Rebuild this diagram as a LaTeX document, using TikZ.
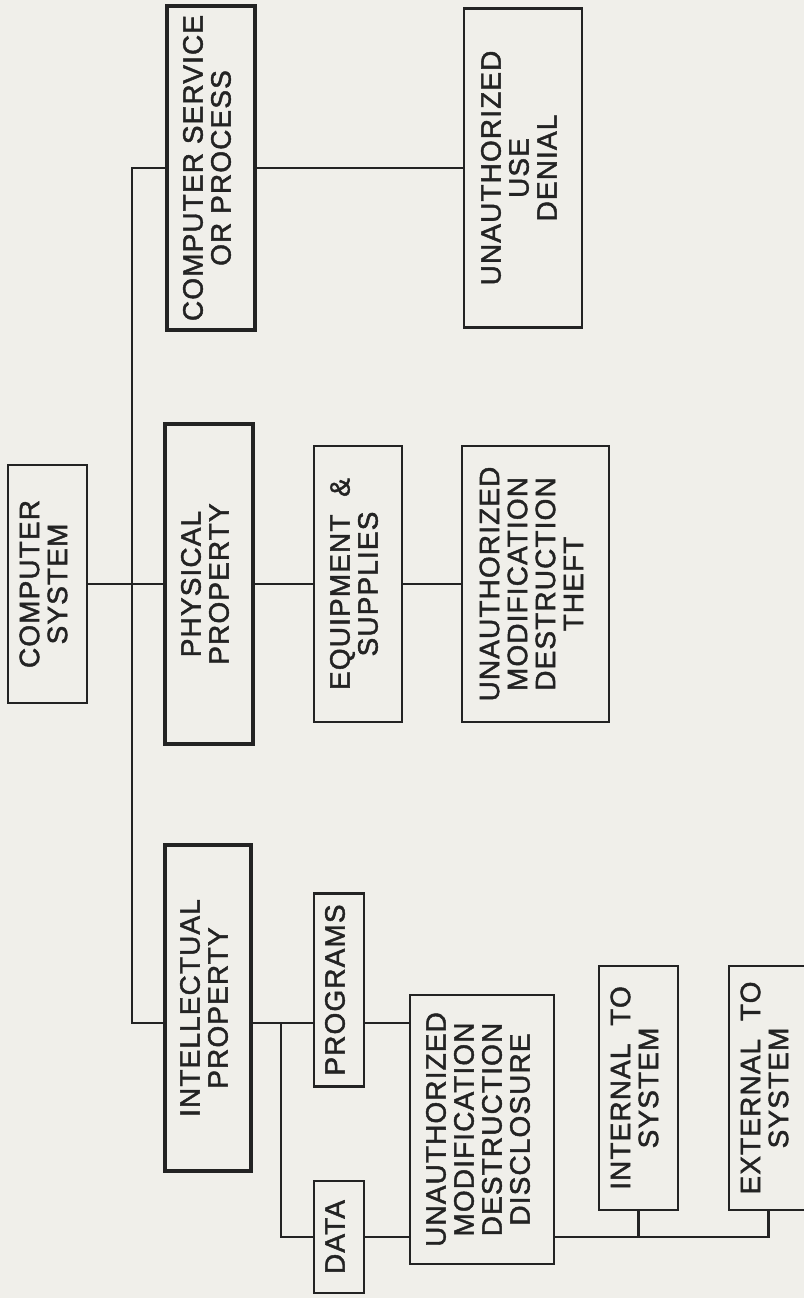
\documentclass[tikz,border=0pt]{standalone}
\usepackage{fontspec}
\setmainfont{Liberation Sans}[FakeBold=1.6, LetterSpace=4]
\usetikzlibrary{positioning}
\definecolor{paper}{RGB}{240,239,234}
\definecolor{ink}{RGB}{35,35,35}
\newcommand{\vlab}[1]{\rotatebox{90}{\begin{tabular}{@{}c@{}}#1\end{tabular}}}

\begin{document}
\begin{tikzpicture}[x=0.5pt, y=-0.5pt,
    box/.style={draw=ink, line width=1.4pt, inner sep=0pt, fill=paper, text=ink,
      font=\fontsize{14}{14}\selectfont},
    heavy/.style={box, line width=2.2pt},
    conn/.style={draw=ink, line width=1.2pt}]
  \useasboundingbox (0,0) rectangle (804,1298);
  \fill[paper] (0,0) rectangle (804,1298);
  \clip (0,0) rectangle (804,1298);
  \node[box, minimum width=39.5pt, minimum height=119pt] (sys) at (47.5,584) {\vlab{COMPUTER\\SYSTEM}};
  \node[heavy, minimum width=44pt, minimum height=162pt] (svc) at (211,168) {\vlab{COMPUTER SERVICE\\OR PROCESS}};
  \node[box, minimum width=59pt, minimum height=159.5pt] (use) at (523,168) {\vlab{UNAUTHORIZED\\USE\\DENIAL}};
  \node[heavy, minimum width=44pt, minimum height=160pt] (phys) at (209,584) {\vlab{PHYSICAL\\PROPERTY}};
  \node[box, minimum width=44pt, minimum height=138pt] (equip) at (358,584) {\vlab{EQUIPMENT \ \&\\SUPPLIES}};
  \node[box, minimum width=73.5pt, minimum height=138pt] (theft) at (535.5,584) {\vlab{UNAUTHORIZED\\MODIFICATION\\DESTRUCTION\\THEFT}};
  \node[heavy, minimum width=43pt, minimum height=163pt] (intel) at (208,1008) {\vlab{INTELLECTUAL\\PROPERTY}};
  \node[box, minimum width=25pt, minimum height=96.5pt] (prog) at (339,990) {\vlab{PROGRAMS}};
  \node[box, minimum width=25pt, minimum height=56pt] (data) at (339,1237) {\vlab{DATA}};
  \node[box, minimum width=72pt, minimum height=134.5pt] (disc) at (482,1129.5) {\vlab{UNAUTHORIZED\\MODIFICATION\\DESTRUCTION\\DISCLOSURE}};
  \node[box, minimum width=39.5pt, minimum height=122pt] (inter) at (638.5,1088) {\vlab{INTERNAL \ TO\\SYSTEM}};
  \node[box, minimum width=39.5pt, minimum height=122pt] (exter) at (768.5,1088) {\vlab{EXTERNAL \ TO\\SYSTEM}};
  \coordinate (trunk) at (132,0);
  \coordinate (fork) at (281,0);
  \coordinate (lvA) at (0,1023);
  \draw[conn] (svc.west) -| (trunk |- lvA) -- (intel.west |- lvA);
  \draw[conn] (sys.east) -- (phys.west);
  \draw[conn] (phys.east) -- (equip.west);
  \draw[conn] (equip.east) -- (theft.west);
  \draw[conn] (svc.east) -- (use.west);
  \draw[conn] (intel.east |- lvA) -- (prog.west |- lvA);
  \draw[conn] (fork |- lvA) |- (data.west);
  \draw[conn] (prog.east |- lvA) -- (disc.west |- lvA);
  \draw[conn] (data.east) -- (disc.west |- data.east);
  \draw[conn] (disc.east |- data.east) -| (exter.south);
  \draw[conn] (inter.south) -- (inter.south |- data.east);
\end{tikzpicture}
\end{document}
